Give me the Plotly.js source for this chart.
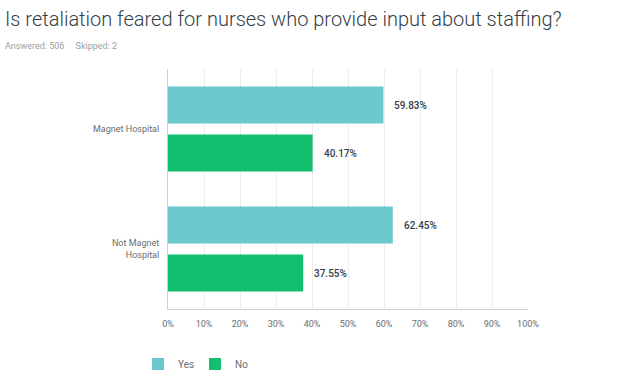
<!DOCTYPE html>
<html>
<head>
<meta charset="utf-8">
<script src="https://cdn.plot.ly/plotly-3.0.1.min.js"></script>
<style>html,body{margin:0;padding:0;background:#fff;}#chart{width:623px;height:390px;}</style>
</head>
<body>
<div id="chart"></div>
<script>
const categories = ["Magnet Hospital", "Not Magnet<br>Hospital"];
const seriesNames = ["Yes", "No"];
const yesValues = [59.83, 62.45];
const noValues = [40.17, 37.55];
const tickValues = [0, 10, 20, 30, 40, 50, 60, 70, 80, 90, 100];
const tickLabels = ["0%", "10%", "20%", "30%", "40%", "50%", "60%", "70%", "80%", "90%", "100%"];

const colors = ["#6bc8cd", "#12bf6f"];
const font = "Roboto, 'Open Sans', sans-serif";

const traces = [
  {type: "bar", orientation: "h", name: seriesNames[0], y: categories, x: yesValues,
   marker: {color: colors[0]}, hoverinfo: "none", offsetgroup: "a"},
  {type: "bar", orientation: "h", name: seriesNames[1], y: categories, x: noValues,
   marker: {color: colors[1]}, hoverinfo: "none", offsetgroup: "b"}
];

const annotations = [];
[yesValues, noValues].forEach((vals, si) => {
  vals.forEach((v, ci) => {
    annotations.push({
      x: v, y: categories[ci], xref: "x", yref: "y",
      text: v.toFixed(2) + "%", showarrow: false, xanchor: "left",
      xshift: 9, yshift: si === 0 ? 24 : -24,
      font: {family: font, size: 10, color: "#333e48", weight: 500}
    });
  });
});
annotations.push({
  xref: "paper", yref: "paper", x: -165/360, y: 1 + 23/240, xanchor: "left", yanchor: "middle",
  text: "Answered: 506&nbsp;&nbsp;&nbsp;&nbsp;&nbsp;Skipped: 2", showarrow: false,
  font: {family: font, size: 9, color: "#9b9ea3"}
});

const layout = {
  width: 623, height: 390,
  margin: {l: 168, r: 95, t: 69, b: 81},
  paper_bgcolor: "#fff", plot_bgcolor: "#fff",
  title: {text: "Is retaliation feared for nurses who provide input about staffing?",
          x: 5/623, xanchor: "left", y: 1 - 19/390, yanchor: "middle",
          font: {family: font, size: 20, color: "#333e48", weight: 300}},
  barmode: "group", bargap: 0.2, bargroupgap: 0.23,
  xaxis: {range: [0, 100], tickvals: tickValues, ticktext: tickLabels,
          showgrid: true, gridcolor: "#ececec", gridwidth: 1, zeroline: false,
          showline: true, linecolor: "#d0d0d0", linewidth: 1, ticks: "", ticklen: 0,
          ticklabelstandoff: 6,
          tickfont: {family: font, size: 9, color: "#6a6d72"}, fixedrange: true},
  yaxis: {autorange: "reversed", showline: true, linecolor: "#d0d0d0", linewidth: 1,
          showgrid: false, ticks: "", ticklabelstandoff: 6,
          tickfont: {family: font, size: 9, color: "#6a6d72"}, fixedrange: true},
  showlegend: true,
  legend: {orientation: "h", x: -30/360, y: -0.29, xanchor: "left", yanchor: "bottom",
           font: {family: font, size: 10, color: "#6a6d72"}, traceorder: "normal",
           itemwidth: 30, entrywidth: 12},
  annotations: annotations
};

Plotly.newPlot("chart", traces, layout, {displayModeBar: false, staticPlot: true});
</script>
</body>
</html>
